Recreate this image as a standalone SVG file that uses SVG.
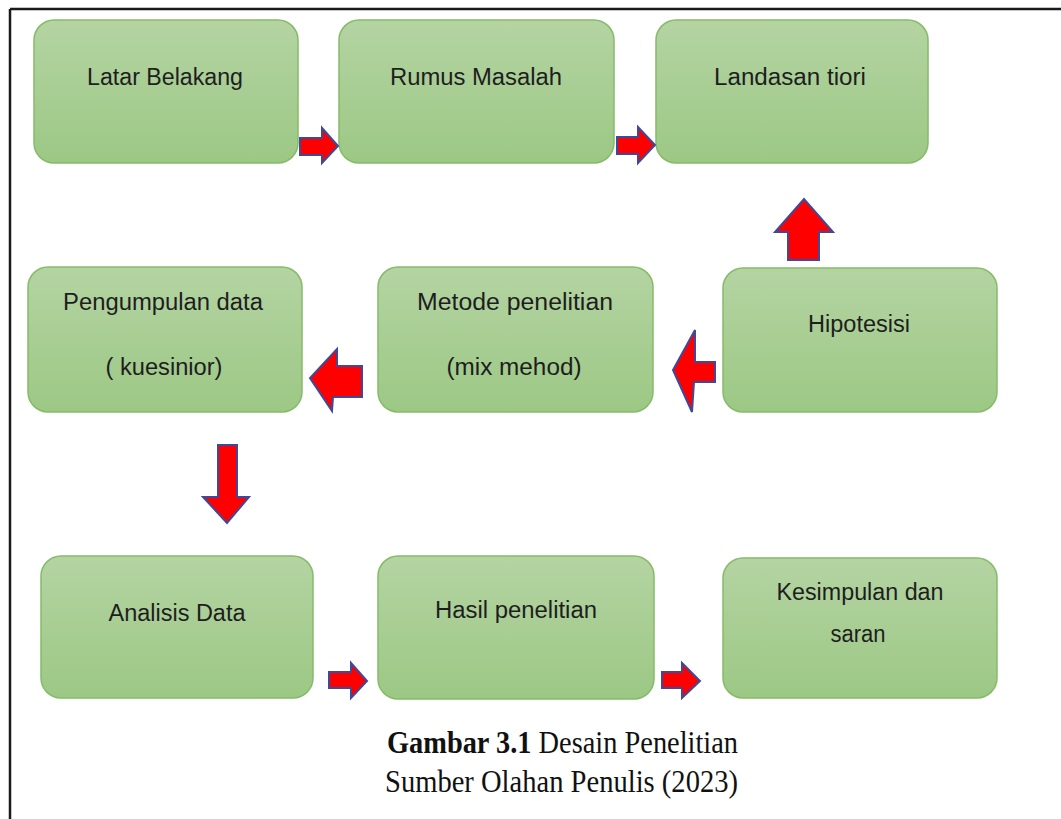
<svg xmlns="http://www.w3.org/2000/svg" width="1061" height="819" viewBox="0 0 1061 819">
<defs>
<linearGradient id="g" x1="0" y1="0" x2="0" y2="1">
<stop offset="0" stop-color="#b4d4a2"/>
<stop offset="1" stop-color="#9cc885"/>
</linearGradient>
</defs>
<style>
.box{fill:url(#g);stroke:#86bb69;stroke-width:1.5}
.t{font-family:"Liberation Sans",Arial,sans-serif;font-size:23px;fill:#1e1e1e;text-anchor:middle}
.arr{fill:#ff0000;stroke:#3d4a9c;stroke-width:2;stroke-linejoin:miter}
.cap{font-family:"Liberation Serif","Times New Roman",serif;font-size:31px;fill:#111}
</style>
<rect width="1061" height="819" fill="#fff"/>
<g id="frame" stroke="#1a1a1a" stroke-width="2.5" fill="none">
<line x1="10" y1="9" x2="1061" y2="9"/>
<line x1="10" y1="9" x2="10" y2="819"/>
</g>
<g id="n1"><rect class="box" x="34" y="20" width="264" height="143" rx="20"/><text class="t" x="165" y="85" textLength="156" lengthAdjust="spacingAndGlyphs">Latar Belakang</text></g>
<g id="n2"><rect class="box" x="339" y="20" width="275" height="143" rx="20"/><text class="t" x="476" y="85" textLength="172" lengthAdjust="spacingAndGlyphs">Rumus Masalah</text></g>
<g id="n3"><rect class="box" x="656" y="20" width="272" height="143" rx="20"/><text class="t" x="790" y="85" textLength="152" lengthAdjust="spacingAndGlyphs">Landasan tiori</text></g>
<g id="n4"><rect class="box" x="28" y="267" width="274" height="145" rx="20"/><text class="t" x="163" y="310" textLength="200" lengthAdjust="spacingAndGlyphs">Pengumpulan data</text><text class="t" x="164" y="375" textLength="117" lengthAdjust="spacingAndGlyphs">( kuesinior)</text></g>
<g id="n5"><rect class="box" x="378" y="267" width="275" height="145" rx="20"/><text class="t" x="515" y="310" textLength="196" lengthAdjust="spacingAndGlyphs">Metode penelitian</text><text class="t" x="514" y="375" textLength="135" lengthAdjust="spacingAndGlyphs">(mix mehod)</text></g>
<g id="n6"><rect class="box" x="723" y="268" width="274" height="144" rx="20"/><text class="t" x="859" y="332" textLength="102" lengthAdjust="spacingAndGlyphs">Hipotesisi</text></g>
<g id="n7"><rect class="box" x="41" y="556" width="272" height="142" rx="20"/><text class="t" x="177" y="621" textLength="137" lengthAdjust="spacingAndGlyphs">Analisis Data</text></g>
<g id="n8"><rect class="box" x="378" y="556" width="276" height="143" rx="20"/><text class="t" x="516" y="618" textLength="162" lengthAdjust="spacingAndGlyphs">Hasil penelitian</text></g>
<g id="n9"><rect class="box" x="723" y="558" width="274" height="140" rx="20"/><text class="t" x="860" y="600" textLength="167" lengthAdjust="spacingAndGlyphs">Kesimpulan dan</text><text class="t" x="858" y="642" textLength="55" lengthAdjust="spacingAndGlyphs">saran</text></g>
<g id="connectors">
<polygon class="arr" points="300,138 322,138 322,128 338,146 322,163 322,155 300,155"/>
<polygon class="arr" points="617,137 638,137 638,127 655,145 638,163 638,154 617,154"/>
<polygon class="arr" points="788,260 788,232 775,232 804,199 833,232 819,232 819,260"/>
<polygon class="arr" points="715,362 695,362 695,330 673,370 692,412 694,382 715,382"/>
<polygon class="arr" points="362,366 337,366 337,349 310,378 332,411 333,397 362,397"/>
<polygon class="arr" points="218,445 237,445 237,497 249,497 227,523 203,497 218,497"/>
<polygon class="arr" points="329,672 351,672 351,663 367,681 351,698 351,688 329,688"/>
<polygon class="arr" points="662,672 682,672 682,663 700,681 682,698 682,688 662,688"/>
</g>
<g id="caption">
<text class="cap" x="387" y="753" textLength="351" lengthAdjust="spacingAndGlyphs"><tspan font-weight="bold">Gambar 3.1</tspan> Desain Penelitian</text>
<text class="cap" x="385" y="792" textLength="353" lengthAdjust="spacingAndGlyphs">Sumber Olahan Penulis (2023)</text>
</g>
</svg>
